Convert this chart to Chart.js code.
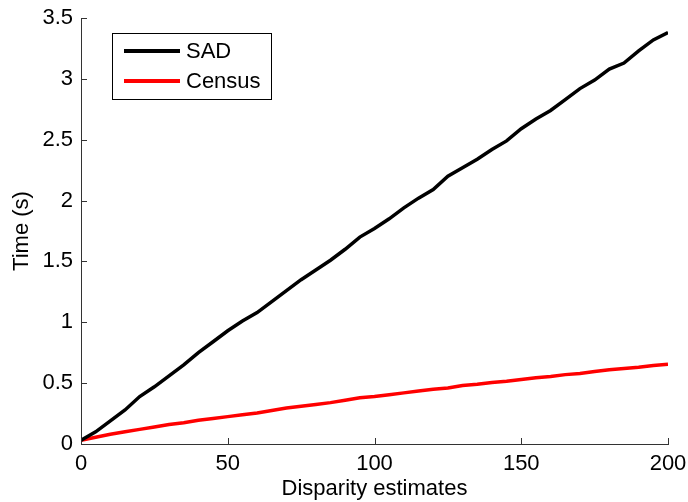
<!DOCTYPE html>
<html>
<head>
<meta charset="utf-8">
<script src="https://cdn.jsdelivr.net/npm/chart.js@4"></script>
<style>
  html, body { margin: 0; padding: 0; background: #fff; }
  #wrap { width: 688px; height: 502px; }
</style>
</head>
<body>
<div id="wrap"><canvas id="chart" width="688" height="502"></canvas></div>
<script>
// Datos
const disparities = [0, 5, 10, 15, 20, 25, 30, 35, 40, 45, 50, 55, 60, 65, 70, 75, 80, 85, 90, 95, 100,
    105, 110, 115, 120, 125, 130, 135, 140, 145, 150, 155, 160, 165, 170, 175, 180, 185, 190, 195, 200];
const sadTimes = [0.03, 0.1, 0.19, 0.28, 0.39, 0.47, 0.56, 0.65, 0.75, 0.84, 0.93, 1.01, 1.08, 1.17, 1.26, 1.35, 1.43, 1.51, 1.6, 1.7, 1.77,
    1.85, 1.94, 2.02, 2.09, 2.2, 2.27, 2.34, 2.42, 2.49, 2.59, 2.67, 2.74, 2.83, 2.92, 2.99, 3.08, 3.13, 3.23, 3.32, 3.38];
const censusTimes = [0.03, 0.055, 0.08, 0.1, 0.12, 0.14, 0.16, 0.175, 0.195, 0.21, 0.225, 0.24, 0.255, 0.275, 0.295, 0.31, 0.325, 0.34, 0.36, 0.38, 0.39,
    0.405, 0.42, 0.435, 0.45, 0.46, 0.48, 0.49, 0.505, 0.515, 0.53, 0.545, 0.555, 0.57, 0.58, 0.595, 0.61, 0.62, 0.63, 0.645, 0.655];
const seriesNames = ['SAD', 'Census'];
const seriesColors = ['#000000', '#ff0000'];
const xTicks = [0, 50, 100, 150, 200];
const yTicks = [0, 0.5, 1, 1.5, 2, 2.5, 3, 3.5];

const FONT = { family: '"Liberation Sans", Arial, sans-serif', size: 22 };
const AXIS_COLOR = '#333';

// Marcas de los ejes hacia dentro, estilo MATLAB
const inwardTicks = {
    id: 'inwardTicks',
    afterDraw(chart) {
        const ctx = chart.ctx;
        const x = chart.scales.x, y = chart.scales.y;
        ctx.save();
        ctx.strokeStyle = AXIS_COLOR;
        ctx.lineWidth = 1;
        ctx.beginPath();
        xTicks.forEach(v => {
            const px = Math.round(x.getPixelForValue(v)) + 0.5;
            ctx.moveTo(px, y.bottom);
            ctx.lineTo(px, y.bottom - 6);
        });
        yTicks.forEach(v => {
            const py = Math.round(y.getPixelForValue(v)) + 0.5;
            ctx.moveTo(x.left, py);
            ctx.lineTo(x.left + 6, py);
        });
        ctx.stroke();
        ctx.restore();
    }
};

// Leyenda con caja dentro del area
const boxLegend = {
    id: 'boxLegend',
    afterDraw(chart) {
        const ctx = chart.ctx;
        const area = chart.chartArea;
        const bx = area.left + 31, by = area.top + 15, bw = 159, bh = 66;
        ctx.save();
        ctx.fillStyle = '#fff';
        ctx.fillRect(bx, by, bw, bh);
        ctx.strokeStyle = '#000';
        ctx.lineWidth = 1;
        ctx.strokeRect(bx + 0.5, by + 0.5, bw, bh);
        ctx.font = FONT.size + 'px ' + FONT.family;
        ctx.textBaseline = 'middle';
        chart.data.datasets.forEach((ds, i) => {
            const ly = by + 18 + i * 30;
            ctx.strokeStyle = ds.borderColor;
            ctx.lineWidth = 4;
            ctx.beginPath();
            ctx.moveTo(bx + 12, ly);
            ctx.lineTo(bx + 68, ly);
            ctx.stroke();
            ctx.fillStyle = '#000';
            ctx.fillText(ds.label, bx + 74, ly + 1);
        });
        ctx.restore();
    }
};

const datasets = [sadTimes, censusTimes].map((vals, i) => ({
    label: seriesNames[i],
    data: disparities.map((d, j) => ({ x: d, y: vals[j] })),
    borderColor: seriesColors[i],
    backgroundColor: seriesColors[i],
    borderWidth: 3.5,
    pointRadius: 0,
    tension: 0,
    fill: false
}));

new Chart(document.getElementById('chart'), {
    type: 'line',
    data: { datasets: datasets },
    options: {
        responsive: false,
        animation: false,
        layout: { padding: { top: 18, right: 20, left: 0, bottom: 0 } },
        plugins: {
            legend: { display: false },
            tooltip: { enabled: false }
        },
        scales: {
            x: {
                type: 'linear',
                min: 0,
                max: 200,
                afterBuildTicks: s => { s.ticks = xTicks.map(v => ({ value: v })); },
                afterFit: s => { s.height = 58; s.paddingLeft = 0; s.paddingRight = 0; },
                grid: { display: false, drawTicks: false },
                border: { display: true, color: AXIS_COLOR, width: 1 },
                ticks: { color: '#000', font: FONT, padding: 7, maxRotation: 0, callback: v => String(v) },
                title: { display: true, text: 'Disparity estimates', color: '#000', font: FONT, padding: { top: 0, bottom: 0 } }
            },
            y: {
                min: 0,
                max: 3.5,
                afterBuildTicks: s => { s.ticks = yTicks.map(v => ({ value: v })); },
                afterFit: s => { s.width = 81; s.paddingTop = 0; s.paddingBottom = 0; },
                grid: { display: false, drawTicks: false },
                border: { display: true, color: AXIS_COLOR, width: 1 },
                ticks: { color: '#000', font: FONT, padding: 8, callback: v => String(v) },
                title: { display: true, text: 'Time (s)', color: '#000', font: FONT, padding: { top: 9, bottom: 0 } }
            }
        }
    },
    plugins: [inwardTicks, boxLegend]
});
</script>
</body>
</html>
